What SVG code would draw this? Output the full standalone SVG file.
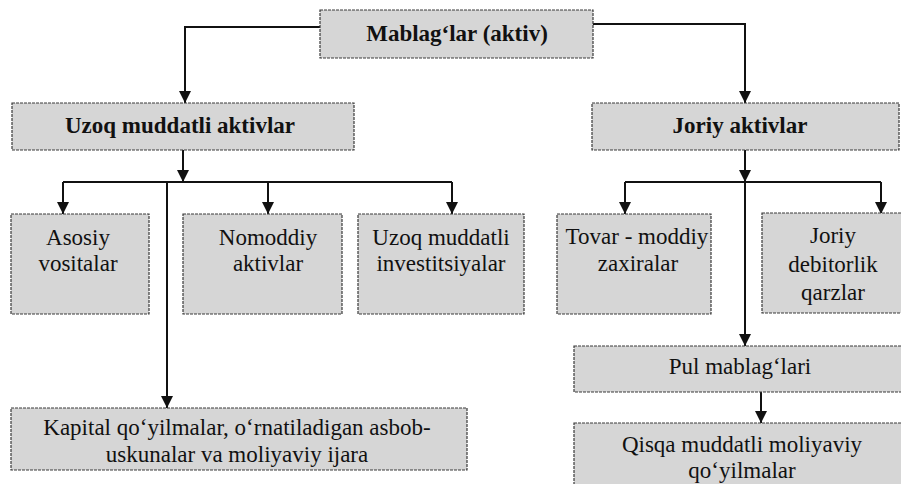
<svg xmlns="http://www.w3.org/2000/svg" width="901" height="484" viewBox="0 0 901 484">
<style>
.box{fill:#d6d6d6;stroke:#3a3a3a;stroke-width:1.2;stroke-dasharray:3 1}
.t{font-family:'Liberation Serif','Times New Roman',serif;font-size:23px;fill:#111;text-anchor:middle}
.b{font-weight:bold}
.c{fill:none;stroke:#111;stroke-width:2}
</style>
<defs>
<marker id="ah" markerWidth="12" markerHeight="12" refX="10" refY="5" orient="auto" markerUnits="userSpaceOnUse" viewBox="0 0 10 10">
<path d="M0,0 L10,5 L0,10 z" fill="#111"/>
</marker>
</defs>
<rect width="901" height="484" fill="#fff"/>
<g id="connectors">
<path class="c" d="M320,27 H185 V103" marker-end="url(#ah)"/>
<path class="c" d="M593,24 H745 V103" marker-end="url(#ah)"/>
<path class="c" d="M183,150 V182" marker-end="url(#ah)"/>
<path class="c" d="M63,182 H452"/>
<path class="c" d="M63,182 V214" marker-end="url(#ah)"/>
<path class="c" d="M268,182 V214" marker-end="url(#ah)"/>
<path class="c" d="M452,182 V214" marker-end="url(#ah)"/>
<path class="c" d="M167,182 V408" marker-end="url(#ah)"/>
<path class="c" d="M745,150 V182" marker-end="url(#ah)"/>
<path class="c" d="M625,182 H881"/>
<path class="c" d="M625,182 V214" marker-end="url(#ah)"/>
<path class="c" d="M881,182 V214" marker-end="url(#ah)"/>
<path class="c" d="M745,182 V346" marker-end="url(#ah)"/>
<path class="c" d="M761,392 V423" marker-end="url(#ah)"/>
</g>
<g id="n-root"><rect class="box" x="320" y="10" width="273" height="48"/><text class="t b" x="457" y="41">Mablag‘lar (aktiv)</text></g>
<g id="n-uzoq"><rect class="box" x="12" y="103" width="342" height="47"/><text class="t b" x="180" y="133">Uzoq muddatli aktivlar</text></g>
<g id="n-joriy"><rect class="box" x="592" y="103" width="307" height="47"/><text class="t b" x="740" y="133">Joriy aktivlar</text></g>
<g id="n-asosiy"><rect class="box" x="11" y="214" width="138" height="100"/><text class="t" x="78" y="245">Asosiy</text><text class="t" x="78" y="271">vositalar</text></g>
<g id="n-nomoddiy"><rect class="box" x="183" y="214" width="159" height="100"/><text class="t" x="268" y="245">Nomoddiy</text><text class="t" x="268" y="271">aktivlar</text></g>
<g id="n-invest"><rect class="box" x="358" y="214" width="166" height="100"/><text class="t" x="441" y="245">Uzoq muddatli</text><text class="t" x="441" y="271">investitsiyalar</text></g>
<g id="n-kapital"><rect class="box" x="11" y="408" width="456" height="62"/><text class="t" x="237" y="435">Kapital qo‘yilmalar, o‘rnatiladigan asbob-</text><text class="t" x="237" y="462">uskunalar va moliyaviy ijara</text></g>
<g id="n-tovar"><rect class="box" x="557" y="214" width="154" height="100"/><text class="t" x="637" y="244">Tovar - moddiy</text><text class="t" x="638" y="271">zaxiralar</text></g>
<g id="n-debitor"><rect class="box" x="762" y="213" width="145" height="100"/><text class="t" x="833" y="243">Joriy</text><text class="t" x="833" y="272">debitorlik</text><text class="t" x="833" y="300">qarzlar</text></g>
<g id="n-pul"><rect class="box" x="574" y="346" width="333" height="46"/><text class="t" x="740" y="374">Pul mablag‘lari</text></g>
<g id="n-qisqa"><rect class="box" x="574" y="423" width="333" height="70"/><text class="t" x="742" y="452">Qisqa muddatli moliyaviy</text><text class="t" x="742" y="478">qo‘yilmalar</text></g>
</svg>
